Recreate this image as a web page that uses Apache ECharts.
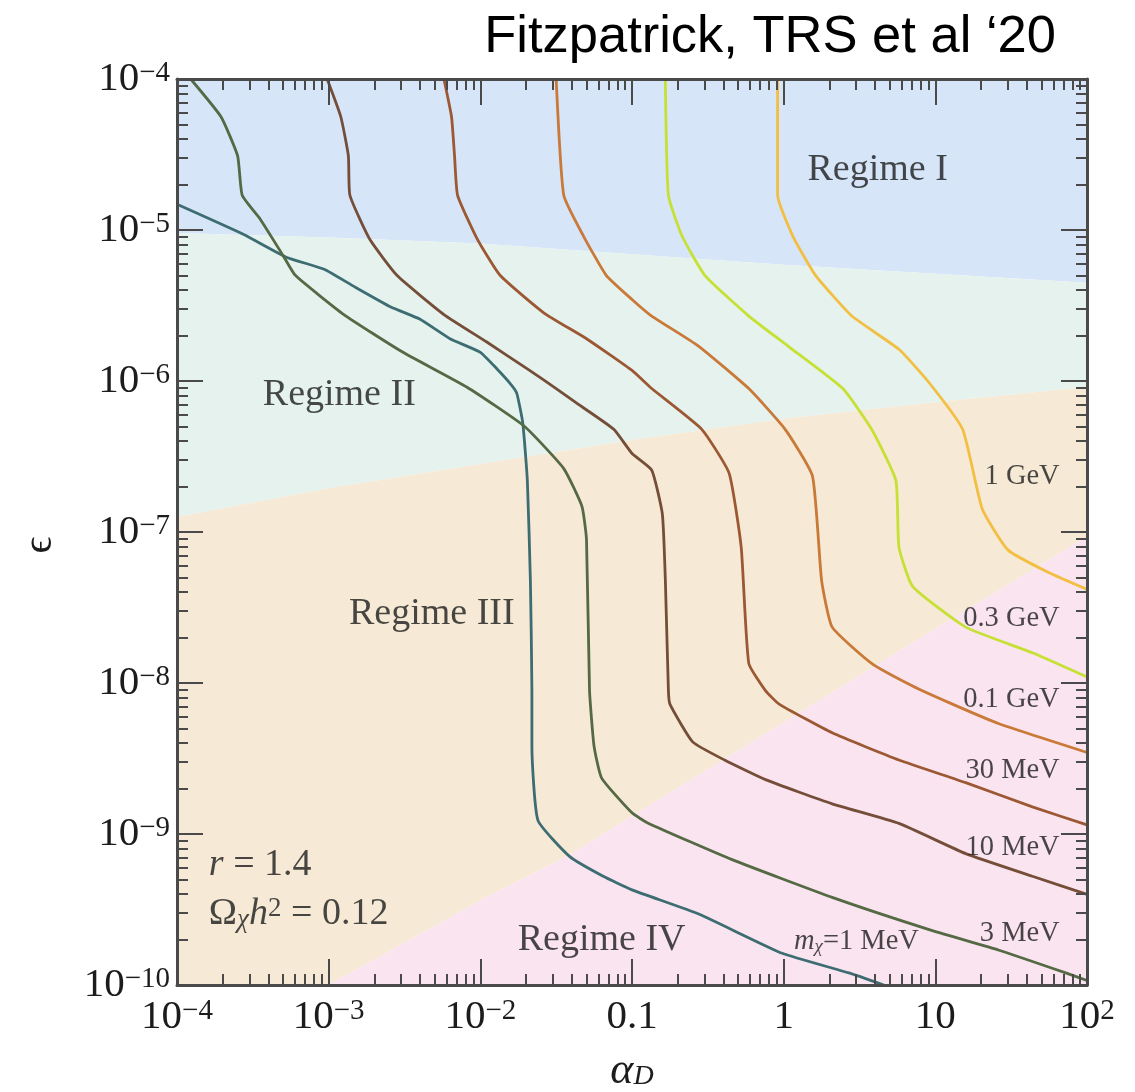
<!DOCTYPE html>
<html>
<head>
<meta charset="utf-8">
<script src="https://cdn.jsdelivr.net/npm/echarts@6/dist/echarts.min.js"></script>
<style>
  html, body { margin: 0; padding: 0; background: #ffffff; }
  #chart { width: 1135px; height: 1092px; }
</style>
</head>
<body>
<div id="chart"></div>
<script>
// Relic-density contours Omega_chi h^2 = 0.12 (r = 1.4) in the (alpha_D, epsilon) plane.
// Every point is stored as [log10(alpha_D), log10(epsilon)].

const curveLabels = ['1 MeV', '3 MeV', '10 MeV', '30 MeV', '0.1 GeV', '0.3 GeV', '1 GeV'];

const curve1MeV = [
  [-4.00, -4.83], [-3.56, -5.03], [-3.28, -5.18], [-3.03, -5.26], [-2.84, -5.37],
  [-2.59, -5.51], [-2.40, -5.59], [-2.20, -5.72], [-2.00, -5.81], [-1.89, -5.92],
  [-1.80, -6.02], [-1.76, -6.08], [-1.72, -6.28], [-1.69, -6.66], [-1.67, -7.32],
  [-1.66, -8.05], [-1.66, -8.42], [-1.62, -8.91], [-1.41, -9.15], [-1.19, -9.28],
  [-1.00, -9.37], [-0.56, -9.53], [-0.01, -9.79], [0.43, -9.92], [0.66, -10.00]
];
const curve3MeV = [
  [-3.91, -4.00], [-3.71, -4.25], [-3.60, -4.51], [-3.57, -4.77], [-3.45, -4.93],
  [-3.30, -5.17], [-3.22, -5.30], [-2.90, -5.56], [-2.51, -5.81], [-2.09, -6.04],
  [-1.71, -6.30], [-1.45, -6.58], [-1.33, -6.83], [-1.30, -7.05], [-1.28, -8.05],
  [-1.25, -8.42], [-1.20, -8.63], [-1.00, -8.86], [-0.89, -8.93], [-0.34, -9.17],
  [0.32, -9.42], [0.98, -9.64], [1.42, -9.77], [1.86, -9.92], [2.00, -9.97]
];
const curve10MeV = [
  [-3.01, -4.00], [-2.92, -4.25], [-2.87, -4.51], [-2.86, -4.77], [-2.73, -5.06],
  [-2.55, -5.30], [-2.24, -5.56], [-1.96, -5.74], [-1.69, -5.92], [-1.50, -6.05],
  [-1.36, -6.15], [-1.12, -6.32], [-1.00, -6.48], [-0.87, -6.59], [-0.80, -6.88],
  [-0.78, -7.32], [-0.76, -8.05], [-0.75, -8.14], [-0.60, -8.39], [-0.39, -8.51],
  [-0.12, -8.64], [0.32, -8.80], [0.76, -8.93], [1.20, -9.13], [1.64, -9.28], [2.00, -9.40]
];
const curve30MeV = [
  [-2.24, -4.00], [-2.19, -4.25], [-2.17, -4.51], [-2.15, -4.77], [-2.02, -5.06],
  [-1.87, -5.30], [-1.58, -5.55], [-1.30, -5.72], [-1.00, -5.93], [-0.87, -6.05],
  [-0.54, -6.32], [-0.36, -6.61], [-0.28, -7.10], [-0.23, -7.87], [-0.12, -8.05],
  [-0.03, -8.14], [0.32, -8.33], [0.76, -8.51], [1.20, -8.66], [1.64, -8.82], [2.00, -8.94]
];
const curve100MeV = [
  [-1.50, -4.00], [-1.45, -4.77], [-1.32, -5.04], [-1.17, -5.30], [-1.00, -5.46],
  [-0.87, -5.57], [-0.56, -5.77], [-0.23, -6.05], [0.01, -6.32], [0.19, -6.63],
  [0.25, -7.32], [0.32, -7.63], [0.58, -7.87], [0.85, -8.02], [1.09, -8.13],
  [1.42, -8.27], [2.00, -8.46]
];
const curve300MeV = [
  [-0.78, -4.00], [-0.76, -4.77], [-0.67, -5.04], [-0.52, -5.30], [-0.23, -5.57],
  [0.03, -5.77], [0.39, -6.05], [0.58, -6.32], [0.74, -6.66], [0.76, -7.10],
  [0.85, -7.36], [1.20, -7.63], [1.64, -7.80], [2.00, -7.96]
];
const curve1GeV = [
  [-0.04, -4.00], [-0.04, -4.77], [0.06, -5.04], [0.21, -5.30], [0.45, -5.57],
  [0.76, -5.79], [0.95, -6.00], [1.18, -6.32], [1.31, -6.85], [1.48, -7.12],
  [1.75, -7.27], [2.00, -7.38]
];

// Boundaries between the four freeze-out regimes
const boundaryI_II = [[-4, -5.02], [-3, -5.05], [-2, -5.09], [-1, -5.16], [0, -5.23], [1, -5.29], [2, -5.35]];
const boundaryII_III = [[-4, -6.90], [-3, -6.71], [-2, -6.55], [-1, -6.39], [0, -6.25], [1, -6.14], [2, -6.04]];
const boundaryIII_IV = [[-3, -10.0], [-2, -9.44], [-1.4, -9.13], [-1, -8.88], [-0.4, -8.51], [0.5, -7.95], [1, -7.64], [2, -7.03]];

// Tick labels of the two log axes
const xTickLabels = { '-4': '{b|10}{s|−4}', '-3': '{b|10}{s|−3}', '-2': '{b|10}{s|−2}', '-1': '{b|0.1}', '0': '{b|1}', '1': '{b|10}', '2': '{b|10}{s|2}' };
const yTickLabels = { '-4': '{b|10}{s|−4}', '-5': '{b|10}{s|−5}', '-6': '{b|10}{s|−6}', '-7': '{b|10}{s|−7}', '-8': '{b|10}{s|−8}', '-9': '{b|10}{s|−9}', '-10': '{b|10}{s|−10}' };

// ---- styling ----
const curveData = [curve1MeV, curve3MeV, curve10MeV, curve30MeV, curve100MeV, curve300MeV, curve1GeV];
const curveColors = ['#3d6d72', '#546944', '#754e39', '#9c5833', '#c97938', '#c6e034', '#f2bf42'];
const regimeColors = ['#d6e5f8', '#e5f2ee', '#f6e9d5', '#fae4f0'];
const serif = '"Liberation Serif", "DejaVu Serif", serif';
const axisColor = '#4a4a4a';
const textColor = '#1c1c1c';

const regionPolys = [
  [[-4, -4], [2, -4]].concat(boundaryI_II.slice().reverse()),
  boundaryI_II.concat(boundaryII_III.slice().reverse()),
  boundaryII_III.concat(boundaryIII_IV.slice().reverse(), [[-4, -10]]),
  boundaryIII_IV.concat([[2, -10]])
];

function decadeMinors(lo, hi) {
  const out = [];
  for (let n = lo; n < hi; n++) for (let k = 2; k <= 9; k++) out.push(n + Math.log10(k));
  return out;
}
const xMinor = decadeMinors(-4, 2);
const yMinor = decadeMinors(-10, -4);

const tickRich = {
  b: { fontFamily: serif, fontSize: 41, lineHeight: 40, color: textColor },
  s: { fontFamily: serif, fontSize: 29, lineHeight: 28, verticalAlign: 'top', color: textColor }
};

function makeAxis(kind, pos, minor) {
  const isX = kind === 'x';
  const ax = {
    type: 'value',
    min: isX ? -4 : -10,
    max: isX ? 2 : -4,
    interval: 1,
    position: pos,
    z: 10,
    splitLine: { show: false },
    axisLine: { show: !minor, onZero: false, lineStyle: { color: axisColor, width: 3 } },
    axisTick: { show: true, inside: true, length: minor ? 11 : 26, lineStyle: { color: axisColor, width: 2 } },
    axisLabel: { show: false }
  };
  if (minor) ax.axisTick.customValues = isX ? xMinor : yMinor;
  if (!minor && (pos === 'bottom' || pos === 'left')) {
    ax.axisLabel = {
      show: true,
      margin: isX ? 12 : 7,
      formatter: v => (isX ? xTickLabels : yTickLabels)[String(Math.round(v))] || '',
      rich: tickRich
    };
  }
  return ax;
}

const annotationRich = {
  r: { fontFamily: serif, fontSize: 38, color: textColor },
  n: { fontFamily: serif, fontSize: 38, color: textColor },
  i: { fontFamily: serif, fontSize: 38, fontStyle: 'italic', color: textColor },
  sub: { fontFamily: serif, fontSize: 27, fontStyle: 'italic', verticalAlign: 'bottom', lineHeight: 22, color: textColor },
  sup: { fontFamily: serif, fontSize: 27, verticalAlign: 'top', lineHeight: 24, color: textColor },
  c: { fontFamily: serif, fontSize: 28.5, color: textColor },
  ci: { fontFamily: serif, fontSize: 28.5, fontStyle: 'italic', color: textColor },
  cs: { fontFamily: serif, fontSize: 19, fontStyle: 'italic', verticalAlign: 'bottom', lineHeight: 15, color: textColor }
};

const regimeText = ['Regime I', 'Regime II', 'Regime III', 'Regime IV'];
const regimeAnchor = [[0.62, -4.60], [-2.93, -6.09], [-2.32, -7.54], [-1.20, -9.70]];
const curveLabelAnchor = [[1.82, -9.66], [1.82, -9.09], [1.82, -8.58], [1.82, -8.11], [1.82, -7.57], [1.82, -6.63]];
const curveLabelText = ['3 MeV', '10 MeV', '30 MeV', '0.1 GeV', '0.3 GeV', '1 GeV'];

const series = [];
series.push({
  type: 'custom',
  name: 'regimes',
  z: 1,
  silent: true,
  clip: true,
  data: regionPolys.map(() => [-1, -7]),
  renderItem: (params, api) => ({
    type: 'polygon',
    shape: { points: regionPolys[params.dataIndex].map(p => api.coord(p)) },
    style: { fill: regimeColors[params.dataIndex] }
  })
});
curveData.forEach((d, i) => {
  series.push({
    type: 'line',
    name: curveLabels[i],
    data: d,
    showSymbol: false,
    symbol: 'none',
    smooth: 0.15,
    clip: true,
    z: 3,
    lineStyle: { color: curveColors[i], width: 2.8 }
  });
});
// Regime names
series.push({
  type: 'scatter', z: 5, silent: true, symbolSize: 0,
  data: regimeAnchor.map((p, i) => ({ value: p, name: regimeText[i] })),
  label: { show: true, position: 'inside', formatter: p => '{r|' + p.name + '}', rich: annotationRich }
});
// Curve mass labels, right-aligned at the right edge
series.push({
  type: 'scatter', z: 5, silent: true, symbolSize: 0,
  data: curveLabelAnchor.map((p, i) => ({ value: p, name: curveLabelText[i] })),
  label: { show: true, position: 'left', distance: 0, formatter: p => '{c|' + p.name + '}', rich: annotationRich }
});
// m_chi = 1 MeV label and the parameter box
series.push({
  type: 'scatter', z: 5, silent: true, symbolSize: 0,
  data: [
    { value: [0.48, -9.715], name: 'mchi', label: { position: 'inside', formatter: '{ci|m}{cs|χ}{c|=1 MeV}' } },
    { value: [-3.79, -9.205], name: 'r', label: { position: 'right', distance: 0, formatter: '{i|r}{n| = 1.4}' } },
    { value: [-3.79, -9.53], name: 'omega', label: { position: 'right', distance: 0, formatter: '{n|Ω}{sub|χ}{i|h}{sup|2}{n| = 0.12}' } }
  ],
  label: { show: true, rich: annotationRich }
});

const chart = echarts.init(document.getElementById('chart'), null, { renderer: 'canvas' });
chart.setOption({
  animation: false,
  backgroundColor: '#ffffff',
  grid: { left: 177, top: 79, width: 910, height: 906, containLabel: false },
  xAxis: [makeAxis('x', 'bottom', false), makeAxis('x', 'bottom', true), makeAxis('x', 'top', false), makeAxis('x', 'top', true)],
  yAxis: [makeAxis('y', 'left', false), makeAxis('y', 'left', true), makeAxis('y', 'right', false), makeAxis('y', 'right', true)],
  series: series,
  graphic: [
    { type: 'text', x: 1056, y: 38, z: 20,
      style: { text: 'Fitzpatrick, TRS et al ‘20', fontFamily: '"Liberation Sans", Arial, sans-serif', fontSize: 52.5, fill: '#000', align: 'right', verticalAlign: 'middle' } },
    { type: 'text', x: 40, y: 545, rotation: Math.PI / 2, z: 20,
      style: { text: 'ϵ', fontFamily: serif, fontSize: 42, fill: textColor, align: 'center', verticalAlign: 'middle' } },
    { type: 'text', x: 632, y: 1071, z: 20,
      style: { text: '{a|α}{d|D}', fontFamily: serif, align: 'center', verticalAlign: 'middle',
        rich: { a: { fontFamily: serif, fontSize: 44, fontStyle: 'italic', fill: textColor, lineHeight: 40 },
                d: { fontFamily: serif, fontSize: 28, fontStyle: 'italic', fill: textColor, verticalAlign: 'bottom', lineHeight: 22 } } } }
  ]
});
</script>
</body>
</html>
